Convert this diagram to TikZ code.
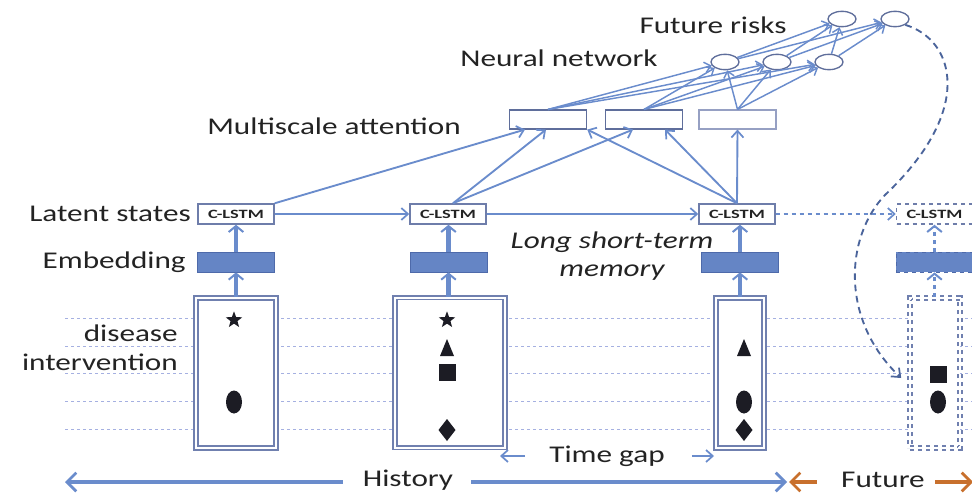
\documentclass[tikz,border=0pt]{standalone}
\usepackage{fontspec}
\setmainfont{Carlito}
\newfontfamily\widefam[FakeStretch=1.3]{Carlito}
\newfontfamily\boxfam[FakeStretch=1.45]{Carlito}
\usetikzlibrary{arrows.meta,shapes.geometric,calc}

\definecolor{lnblue}{RGB}{106,140,204}
\definecolor{embfill}{RGB}{101,133,197}
\definecolor{embline}{RGB}{78,106,170}
\definecolor{lstmline}{RGB}{110,125,170}
\definecolor{attline}{RGB}{95,110,155}
\definecolor{attlight}{RGB}{150,160,195}
\definecolor{boxline}{RGB}{112,128,175}
\definecolor{gridcol}{RGB}{165,176,225}
\definecolor{curvecol}{RGB}{75,100,155}
\definecolor{futorange}{RGB}{200,112,45}
\definecolor{txtcol}{RGB}{35,35,35}
\definecolor{symcol}{RGB}{28,28,36}

\newcommand\lbltext{\widefam\fontsize{18}{21}\selectfont}
\newcommand\boxtext{\boxfam\bfseries\fontsize{9.5}{10}\selectfont}

\begin{document}
\begin{tikzpicture}[x=0.75pt,y=-0.75pt,
  every node/.style={inner sep=0pt, text=txtcol},
  lbl/.style={font=\lbltext},
  link/.style={draw=lnblue, line width=1.4pt, -{Straight Barb[length=5pt,width=9pt,line width=1.3pt]}},
  netlink/.style={draw=lnblue, line width=1.1pt, -{Straight Barb[length=4.5pt,width=8pt,line width=1.1pt]}},
  fatlink/.style={draw=lnblue, line width=3.2pt, -{Straight Barb[length=4.5pt,width=11pt,line width=1.5pt]}},
  bigarrow/.style={draw=lnblue, line width=2.8pt, -{Straight Barb[length=7pt,width=14pt,line width=2pt]}},
  futarrow/.style={draw=futorange, line width=2.8pt, -{Straight Barb[length=7pt,width=14pt,line width=2pt]}},
  lstmbox/.style={draw=lstmline, line width=1.1pt, fill=white, minimum width=57pt, minimum height=15pt, font=\boxtext},
  embbox/.style={draw=embline, line width=0.6pt, fill=embfill, minimum width=57.75pt, minimum height=15pt},
  attbox/.style={draw=attline, line width=1.1pt, fill=white, minimum width=57.75pt, minimum height=14pt},
  neuron/.style={ellipse, draw=attline, line width=1pt, fill=white, minimum width=21pt, minimum height=11.5pt},
  eventbox/.style={draw=boxline, line width=1.2pt, double=white, double distance=1.5pt, fill=white, minimum height=112.5pt},
  gridline/.style={draw=gridcol, line width=0.6pt, dash pattern=on 2.5pt off 2pt},
  symb/.style={fill=symcol}
]
\useasboundingbox (0,0) rectangle (972,493);

% horizontal event rows
\foreach \yy in {318,346,373,401,429}
  \draw[gridline] (65,\yy) -- (972,\yy);

% output layer and hidden layer
\node[neuron] (o1) at (842,19) {};
\node[neuron] (o2) at (895,19) {};
\node[neuron] (h1) at (725,62) {};
\node[neuron] (h2) at (777,62) {};
\node[neuron] (h3) at (829,62) {};

% multiscale attention blocks
\node[attbox] (a1) at (548,119.5) {};
\node[attbox] (a2) at (644,119.5) {};
\node[attbox, draw=attlight] (a3) at (737.5,119.5) {};

% recurrent cells
\node[lstmbox] (l1) at (236,214) {C-LSTM};
\node[lstmbox] (l2) at (448,214) {C-LSTM};
\node[lstmbox] (l3) at (737,214) {C-LSTM};
\node[lstmbox, dashed] (l4) at (934.5,214) {C-LSTM};

% embeddings
\node[embbox] (e1) at (236,262) {};
\node[embbox] (e2) at (448.5,262) {};
\node[embbox] (e3) at (740,262) {};
\node[embbox, dashed] (e4) at (934.5,262) {};

% visits
\node[eventbox, minimum width=60pt] (v1) at (236,373) {};
\node[eventbox, minimum width=82.5pt] (v2) at (450,372.5) {};
\node[eventbox, minimum width=36pt] (v3) at (740,373) {};
\node[eventbox, dashed, minimum width=37.5pt] (v4) at (935,373) {};

% event symbols
\node[star, star points=5, star point ratio=2.4, symb, minimum size=13pt] (s1) at (234,320) {};
\fill[symb] (234,402) ellipse [x radius=8, y radius=11.5];

\node[star, star points=5, star point ratio=2.4, symb, minimum size=13pt] (s2) at (447,320) {};
\fill[symb] (440,356) -- (454,356) -- (447,339) -- cycle;
\fill[symb] (438.5,363.5) rectangle (455.5,380.5);
\fill[symb] (447,419) -- (455.5,430) -- (447,441) -- (438.5,430) -- cycle;

\fill[symb] (737,356) -- (751,356) -- (744,339) -- cycle;
\fill[symb] (744,402) ellipse [x radius=8, y radius=11.5];
\fill[symb] (744,419) -- (752.5,430) -- (744,441) -- (735.5,430) -- cycle;

\fill[symb] (929.5,365.5) rectangle (946.5,382.5);
\fill[symb] (938,402) ellipse [x radius=8, y radius=11.5];

% labels
\node[lbl] (tfut) at (713,25) {Future risks};
\node[lbl] (tnn) at (559,58) {Neural network};
\node[lbl] (tatt) at (334,126) {Multiscale attention};
\node[lbl, anchor=east] (tlat) at (191,214) {Latent states};
\node[lbl, anchor=east] (temb) at (186,262) {Embedding};
\node[lbl, anchor=east] (tdis) at (178,333) {disease};
\node[lbl, anchor=east] (tint) at (178,362) {intervention};
\node[lbl, align=center, font=\lbltext\itshape] (tlstm) at (612,256) {Long short-term\\memory};

% recurrence
\draw[link] (l1) -- (l2);
\draw[link] (l2) -- (l3);
\draw[link, dashed] (l3) -- (l4);

% inputs up through embeddings
\draw[fatlink] (v1.north -| e1.south) -- (e1.south);
\draw[fatlink] (e1.north) -- (l1.south);
\draw[fatlink] (v2.north -| e2.south) -- (e2.south);
\draw[fatlink] (e2.north) -- (l2.south -| e2.north);
\draw[fatlink] (v3.north -| e3.south) -- (e3.south);
\draw[fatlink] (e3.north) -- (l3.south -| e3.north);
\draw[fatlink, line width=2.4pt, dashed] (v4.north -| e4.south) -- (e4.south);
\draw[fatlink, line width=2.4pt, dashed] (e4.north) -- (l4.south -| e4.north);

% cells to attention
\draw[link] (l1.north east) -- ($(a1.south)+(-23,0)$);
\draw[link] ($(l2.north)+(5,0)$) -- ($(a1.south)+(-2,0)$);
\draw[link] ($(l2.north)+(5,0)$) -- ($(a2.south)+(-11,0)$);
\draw[link] (l3.north) -- (a1.south east);
\draw[link] (l3.north) -- ($(a2.south)+(21,0)$);
\draw[link] (l3.north) -- (a3.south);

% attention to network to outputs
\foreach \aa in {a1,a2,a3}
  \foreach \hh in {h1,h2,h3}
    \draw[netlink] (\aa.north) -- (\hh);
\foreach \hh in {h1,h2,h3}
  \foreach \oo in {o1,o2}
    \draw[netlink] (\hh) -- (\oo);

% feedback of predicted risks into the next visit
\draw[draw=curvecol, line width=1.4pt, dash pattern=on 5pt off 3.5pt,
      -{Straight Barb[length=5.5pt,width=9pt,line width=1.3pt]}]
  (o2.south east) .. controls (955,40) and (975,110) .. (885,195)
  .. controls (845,237) and (840,320) .. ($(v4.west)+(-8,5)$);

% time axis
\node[lbl] (tgap) at (607,456) {Time gap};
\coordinate (gapL) at (500,456);
\coordinate (gapR) at (714,456);
\draw[link] ($(tgap.west)+(-24,0)$) -- (gapL);
\draw[link] ($(tgap.east)+(27,0)$) -- (gapR);

\node[lbl] (thist) at (408,480) {History};
\coordinate (histL) at (65,482);
\coordinate (histR) at (787,482);
\draw[bigarrow] ($(thist.west)+(-20,2)$) -- (histL);
\draw[bigarrow] ($(thist.east)+(18,2)$) -- (histR);

\node[lbl] (tfuture) at (883,480) {Future};
\coordinate (futL) at (789,482);
\coordinate (futR) at (973,482);
\draw[futarrow] ($(tfuture.west)+(-24,2)$) -- (futL);
\draw[futarrow] ($(tfuture.east)+(10,2)$) -- (futR);
\end{tikzpicture}
\end{document}
